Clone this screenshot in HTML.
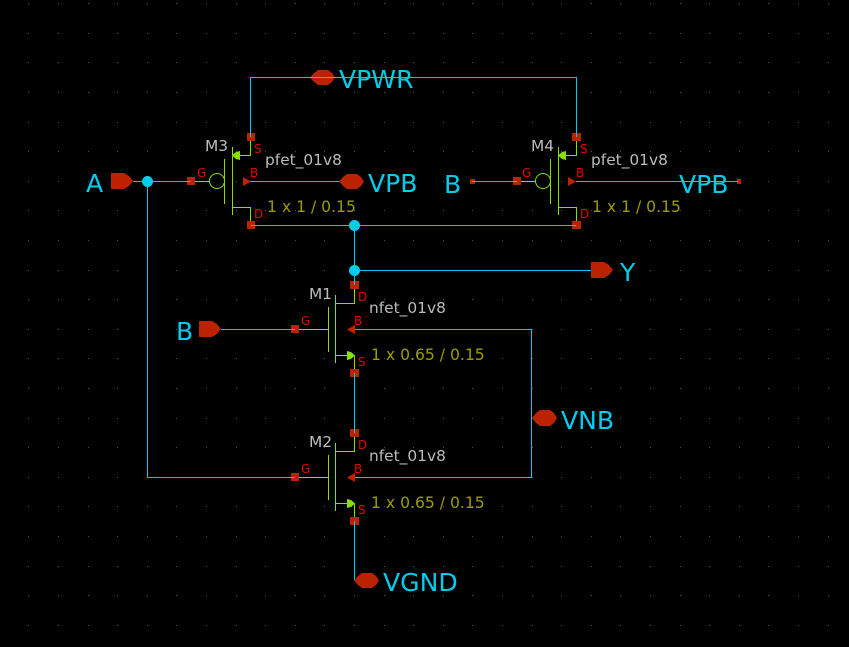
<!DOCTYPE html>
<html><head><meta charset="utf-8"><style>
html,body{margin:0;padding:0;background:#000;width:849px;height:647px;overflow:hidden}
svg{display:block}
text{font-family:"DejaVu Sans",sans-serif}
.w,.g{fill:none;shape-rendering:crispEdges;stroke-width:1}
.w{stroke:#00c8f0}.g{stroke:#88e000}
.r{fill:#bb2200;stroke:none}
.gf{fill:#88e000;stroke:none}
.big{fill:#00ccee;font-size:25.1px}
.n{fill:#bcbcbc;font-size:15.4px}
.p{fill:#9c9c00;font-size:15.6px}
.l{fill:#e60000;font-size:12px}
</style></head><body>
<svg width="849" height="647" viewBox="0 0 849 647" xmlns="http://www.w3.org/2000/svg">
<rect width="849" height="647" fill="#000"/>
<defs><path id="row" fill="#555" shape-rendering="crispEdges" d="M28 0h1v1h-1zM58 0h1v1h-1zM88 0h1v1h-1zM117 0h1v1h-1zM147 0h1v1h-1zM176 0h1v1h-1zM206 0h1v1h-1zM236 0h1v1h-1zM265 0h1v1h-1zM295 0h1v1h-1zM324 0h1v1h-1zM354 0h1v1h-1zM384 0h1v1h-1zM413 0h1v1h-1zM443 0h1v1h-1zM472 0h1v1h-1zM502 0h1v1h-1zM532 0h1v1h-1zM561 0h1v1h-1zM591 0h1v1h-1zM620 0h1v1h-1zM650 0h1v1h-1zM680 0h1v1h-1zM709 0h1v1h-1zM739 0h1v1h-1zM768 0h1v1h-1zM798 0h1v1h-1zM828 0h1v1h-1z"/></defs>
<use href="#row" y="3"/><use href="#row" y="33"/><use href="#row" y="62"/><use href="#row" y="92"/><use href="#row" y="122"/><use href="#row" y="151"/><use href="#row" y="181"/><use href="#row" y="210"/><use href="#row" y="240"/><use href="#row" y="270"/><use href="#row" y="299"/><use href="#row" y="329"/><use href="#row" y="358"/><use href="#row" y="388"/><use href="#row" y="418"/><use href="#row" y="447"/><use href="#row" y="477"/><use href="#row" y="506"/><use href="#row" y="536"/><use href="#row" y="566"/><use href="#row" y="595"/><use href="#row" y="625"/>

<!-- green device symbols -->
<path class="g" d="M250.5 141V155.5H236M232.5 147V215M224.5 159V204M195 181.5H210M232.5 207.5H250.5V221"/>
<circle cx="217" cy="181" r="7.5" fill="none" stroke="#88e000"/>
<path class="gf" d="M232 155.5L236 152L240 151V160L236 159Z"/>
<path class="g" d="M576.5 141V155.5H562M558.5 147V215M550.5 159V204M521 181.5H536M558.5 207.5H576.5V221"/>
<circle cx="543" cy="181" r="7.5" fill="none" stroke="#88e000"/>
<path class="gf" d="M558 155.5L562 152L566 151V160L562 159Z"/>
<path class="g" d="M354.5 289V303.5H335.5M335.5 295V363M328.5 307V352M299 329.5H328M335.5 355.5H350M354.5 355.5V369"/>
<path class="gf" d="M355 355.5L351 359L347 360V351L351 352Z"/>
<path class="g" d="M354.5 437V451.5H335.5M335.5 443V511M328.5 455V500M299 477.5H328M335.5 503.5H350M354.5 503.5V517"/>
<path class="gf" d="M355 503.5L351 507L347 508V499L351 500Z"/>

<!-- pin squares -->
<rect class="r" x="247" y="133" width="8" height="8"/><rect class="r" x="572" y="133" width="9" height="8"/>
<rect class="r" x="187" y="177" width="8" height="8"/><rect class="r" x="513" y="177" width="8" height="8"/>
<rect class="r" x="247" y="221" width="8" height="8"/><rect class="r" x="572" y="221" width="9" height="8"/>
<rect class="r" x="350" y="281" width="9" height="8"/><rect class="r" x="291" y="325" width="8" height="8"/><rect class="r" x="350" y="369" width="9" height="8"/>
<rect class="r" x="350" y="429" width="9" height="8"/><rect class="r" x="291" y="473" width="8" height="8"/><rect class="r" x="350" y="517" width="9" height="8"/>
<rect class="r" x="470" y="179" width="5" height="5"/><rect class="r" x="737" y="179" width="4" height="5"/>

<!-- bulk arrows -->
<path class="r" d="M243 177V186L251 181.5Z"/>
<path class="r" d="M568 177V186L576 181.5Z"/>
<path class="r" d="M347 329.5L355 325V334Z"/>
<path class="r" d="M347 477.5L355 473V482Z"/>

<!-- wires -->
<path class="w" d="M133 181.5H191M147.5 181V477.5H295"/>
<path class="w" d="M250 181.5H340"/>
<path class="w" d="M251 225.5H576"/>
<path class="w" d="M354.5 225V285M354 270.5H591"/>
<path class="w" d="M221 329.5H295M355 329.5H531.5V477.5H355"/>
<path class="w" d="M354.5 373V433M354.5 521V580"/>
<path class="w" d="M472 181.5H517M576 181.5H738"/>

<!-- ports -->
<path class="r" d="M111 173H124L129 176L133 181L129 186L124 189H111Z"/>
<path class="r" d="M199 321H212L217 324L221 329L217 334L212 337H199Z"/>
<path class="r" d="M591 262H604L609 265L613 270L609 275L604 278H591Z"/>
<path class="r" d="M310 77.5L314 73L318 70H328L332 73L335 77.5L332 82L328 85H318L314 82Z"/>
<path class="r" d="M339 181.5L343 177L347 174H357L361 177L364 181.5L361 186L357 189H347L343 186Z"/>
<path class="r" d="M532 418L536 413L540 410H550L554 413L557 418L554 423L550 426H540L536 423Z"/>
<path class="r" d="M354 580.5L358 576L362 573H372L376 576L379 580.5L376 585L372 588H362L358 585Z"/>

<path class="w" d="M250.5 137V77.5H576.5V137"/>

<!-- junctions -->
<circle cx="147.5" cy="181.5" r="5.5" fill="#00ccee"/>
<circle cx="354.5" cy="225.5" r="5.5" fill="#00ccee"/>
<circle cx="354.5" cy="270.5" r="5.5" fill="#00ccee"/>

<!-- labels -->
<text class="big" x="86" y="192">A</text>
<text class="big" x="176" y="340">B</text>
<text class="big" x="444" y="193">B</text>
<text class="big" x="339" y="88">VPWR</text>
<text class="big" x="368" y="192">VPB</text>
<text class="big" x="679" y="193">VPB</text>
<text class="big" x="620" y="281">Y</text>
<text class="big" x="561" y="429">VNB</text>
<text class="big" x="383" y="591">VGND</text>

<text class="n" x="205" y="151">M3</text><text class="n" x="265" y="165">pfet_01v8</text>
<text class="n" x="531" y="151">M4</text><text class="n" x="591" y="165">pfet_01v8</text>
<text class="n" x="309" y="299">M1</text><text class="n" x="369" y="313">nfet_01v8</text>
<text class="n" x="309" y="447">M2</text><text class="n" x="369" y="461">nfet_01v8</text>

<text class="p" x="267" y="212">1 x 1 / 0.15</text>
<text class="p" x="592" y="212">1 x 1 / 0.15</text>
<text class="p" x="371" y="360">1 x 0.65 / 0.15</text>
<text class="p" x="371" y="508">1 x 0.65 / 0.15</text>

<text class="l" x="254" y="153">S</text><text class="l" x="197" y="177">G</text><text class="l" x="250" y="177">B</text><text class="l" x="254" y="218">D</text>
<text class="l" x="580" y="153">S</text><text class="l" x="522" y="177">G</text><text class="l" x="576" y="177">B</text><text class="l" x="580" y="218">D</text>
<text class="l" x="358" y="301">D</text><text class="l" x="301" y="325">G</text><text class="l" x="354" y="325">B</text><text class="l" x="358" y="366">S</text>
<text class="l" x="358" y="449">D</text><text class="l" x="301" y="473">G</text><text class="l" x="354" y="473">B</text><text class="l" x="358" y="514">S</text>
</svg>
</body></html>
